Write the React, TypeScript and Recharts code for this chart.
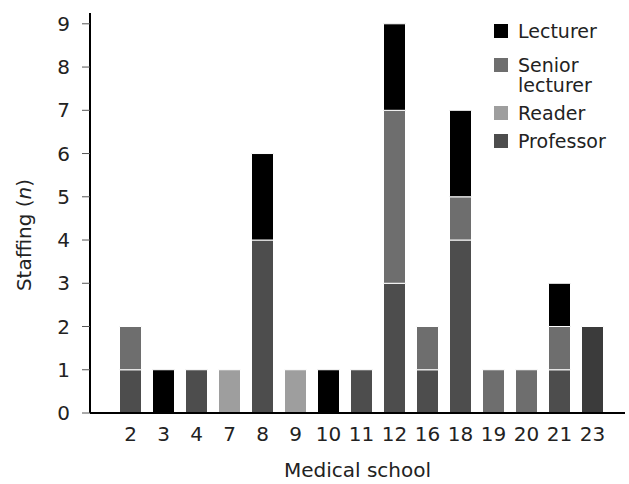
import React from "react";
import { BarChart, Bar, XAxis, YAxis, Cell } from "recharts";

const schools = ["2", "3", "4", "7", "8", "9", "10", "11", "12", "16", "18", "19", "20", "21", "23"];
const professor = [1, 0, 1, 0, 4, 0, 0, 1, 3, 1, 4, 0, 0, 1, 2];
const reader = [0, 0, 0, 1, 0, 1, 0, 0, 0, 0, 0, 0, 0, 0, 0];
const seniorLecturer = [1, 0, 0, 0, 0, 0, 0, 0, 4, 1, 1, 1, 1, 1, 0];
const lecturer = [0, 1, 0, 0, 2, 0, 1, 0, 2, 0, 2, 0, 0, 1, 0];
const yTicks = [0, 1, 2, 3, 4, 5, 6, 7, 8, 9];

const FONT = "'DejaVu Sans', Verdana, sans-serif";
const TEXT = "#222";
const FS = 20;

const series = [
  { key: "Professor", color: "#4d4d4d" },
  { key: "Reader", color: "#9e9e9e" },
  { key: "Senior lecturer", color: "#6e6e6e" },
  { key: "Lecturer", color: "#000000" },
];

const data = schools.map((s, i) => ({
  school: s,
  Professor: professor[i],
  Reader: reader[i],
  "Senior lecturer": seniorLecturer[i],
  Lecturer: lecturer[i],
}));

const LegendBox = () => (
  <div
    style={{
      position: "absolute",
      top: 21,
      left: 494,
      width: 135,
      fontFamily: FONT,
      fontSize: 19,
      color: TEXT,
      lineHeight: "20px",
    }}
  >
    {[...series].reverse().map((s, i) => (
      <div key={s.key} style={{ display: "flex", alignItems: "flex-start", marginBottom: i === 0 ? 14 : 8 }}>
        <span
          style={{
            display: "inline-block",
            width: 14,
            height: 14,
            background: s.color,
            marginTop: 3,
            marginRight: 10,
            flexShrink: 0,
          }}
        />
        <span style={{ width: 100 }}>{s.key}</span>
      </div>
    ))}
  </div>
);

const YLabel = () => (
  <text
    x={0}
    y={0}
    transform="translate(31, 235) rotate(-90)"
    textAnchor="middle"
    fontFamily={FONT}
    fontSize={FS}
    fill={TEXT}
  >
    Staffing (<tspan fontStyle="italic">n</tspan>)
  </text>
);

export default function App() {
  return (
    <div style={{ position: "absolute", left: 0, top: 0, width: 629, height: 484, background: "#fff" }}>
      <BarChart
        width={629}
        height={484}
        data={data}
        margin={{ top: 13, right: 4, left: 0, bottom: 0 }}
        barCategoryGap={5.5}
      >
        <XAxis
          dataKey="school"
          height={71}
          padding={{ left: 24, right: 16 }}
          tickLine={false}
          tickSize={0}
          tickMargin={14}
          axisLine={{ stroke: "#000", strokeWidth: 2 }}
          tick={{ fontFamily: FONT, fontSize: FS, fill: TEXT }}
          interval={0}
          label={{
            value: "Medical school",
            position: "insideBottom",
            offset: 7,
            style: { fontFamily: FONT, fontSize: FS, fill: TEXT },
          }}
        />
        <YAxis
          width={90}
          domain={[0, 9.25]}
          ticks={yTicks}
          allowDataOverflow
          tickSize={8}
          tickMargin={12}
          tickLine={{ stroke: "#555" }}
          axisLine={{ stroke: "#000", strokeWidth: 2 }}
          tick={{ fontFamily: FONT, fontSize: FS, fill: TEXT }}
          label={<YLabel />}
        />
        {series.map((s) => (
          <Bar
            key={s.key}
            dataKey={s.key}
            stackId="a"
            fill={s.color}
            stroke="#fff"
            strokeWidth={1}
            isAnimationActive={false}
          >
            {s.key === "Professor"
              ? data.map((d) => (
                  <Cell key={d.school} fill={d.school === "23" ? "#3b3b3b" : s.color} />
                ))
              : null}
          </Bar>
        ))}
      </BarChart>
      <LegendBox />
    </div>
  );
}
